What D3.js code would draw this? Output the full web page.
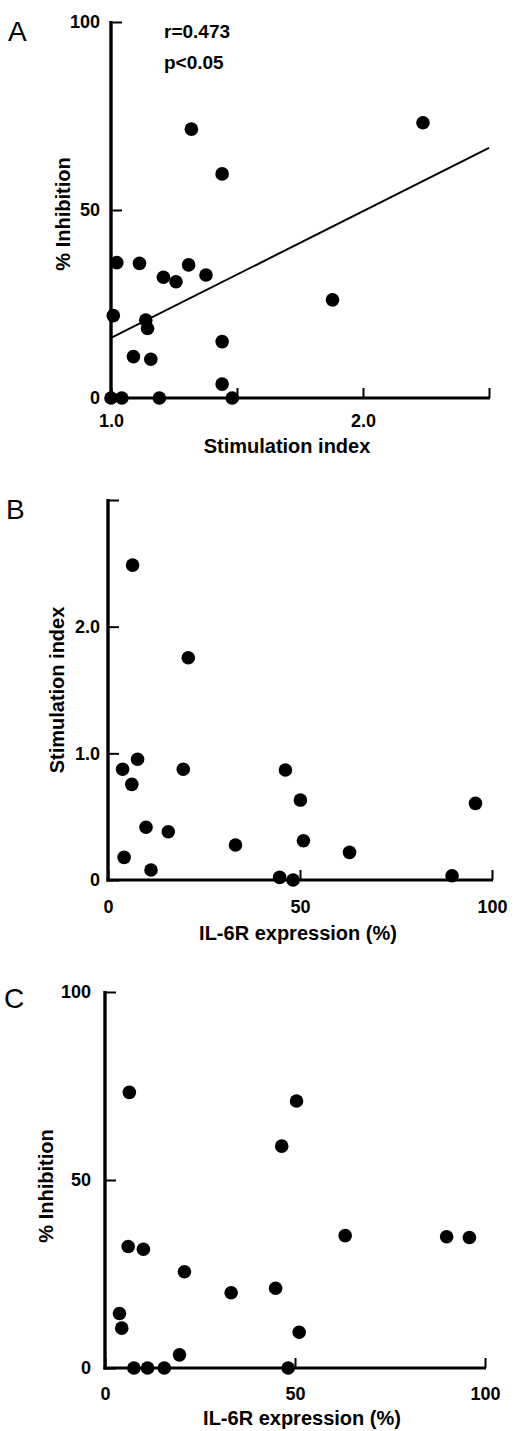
<!DOCTYPE html>
<html>
<head>
<meta charset="utf-8">
<script src="https://cdn.jsdelivr.net/npm/d3@7/dist/d3.min.js"></script>
<style>
  html, body { margin: 0; padding: 0; background: #fff; }
  svg { display: block; }
  text { font-family: "Liberation Sans", Arial, Helvetica, sans-serif; fill: #000; }
</style>
</head>
<body>
<svg id="chart" width="514" height="1431"></svg>
<script>
// ---------------- DATA ----------------
// Panel A: Stimulation index vs % Inhibition
const stimIndexA  = [1.023, 1.113, 1.308, 1.208, 1.258, 1.377, 1.879, 1.009, 1.138, 1.145, 1.089, 1.158, 1.441, 1.441, 1.000, 1.043, 1.192, 1.481, 1.319, 1.441, 2.238];
const inhibitionA = [36.0, 35.8, 35.4, 32.1, 30.9, 32.7, 26.1, 21.9, 20.7, 18.5, 11.0, 10.3, 15.0, 3.7, 0, 0, 0, 0, 71.5, 59.6, 73.2];
const regressionX = [1.0, 2.5];
const regressionY = [16.0, 66.5];
const statsLabels = ["r=0.473", "p<0.05"];

// Panel B: IL-6R expression vs Stimulation index
const il6rB      = [6.4, 20.9, 3.8, 7.7, 6.2, 19.6, 46.2, 50.1, 95.7, 9.9, 15.7, 33.2, 50.9, 62.9, 4.2, 11.2, 44.7, 48.2, 89.6];
const stimIndexB = [2.486, 1.755, 0.874, 0.953, 0.755, 0.874, 0.868, 0.631, 0.605, 0.416, 0.381, 0.276, 0.31, 0.218, 0.179, 0.079, 0.021, 0.0, 0.034];

// Panel C: IL-6R expression vs % Inhibition
const il6rC       = [6.4, 50.4, 46.5, 63.2, 89.9, 95.9, 6.1, 10.1, 20.9, 33.2, 44.9, 3.8, 4.4, 51.1, 19.6, 7.6, 11.2, 15.6, 48.2];
const inhibitionC = [73.3, 71.0, 59.0, 35.2, 34.9, 34.7, 32.3, 31.6, 25.6, 20.0, 21.2, 14.5, 10.6, 9.5, 3.5, 0, 0, 0, 0];

// Tick values and labels
const ticksAX = [1.0, 1.5, 2.0, 2.5];
const labelsAX = ["1.0", "", "2.0", ""];
const ticksAY = [0, 50, 100];
const labelsAY = ["0", "50", "100"];
const ticksBX = [0, 50, 100];
const labelsBX = ["0", "50", "100"];
const ticksBY = [0, 1, 2, 3];
const labelsBY = ["0", "1.0", "2.0", ""];
const ticksCX = [0, 50, 100];
const labelsCX = ["0", "50", "100"];
const ticksCY = [0, 50, 100];
const labelsCY = ["0", "50", "100"];

const panelLetters = ["A", "B", "C"];
const xTitles = ["Stimulation index", "IL-6R expression (%)", "IL-6R expression (%)"];
const yTitles = ["% Inhibition", "Stimulation index", "% Inhibition"];

// ---------------- LAYOUT ----------------
const svg = d3.select("#chart");

const panels = [
  { letter: panelLetters[0], letterPos: [8, 41],
    xDomain: [1, 2.5], xRange: [111, 489], yDomain: [0, 100], yRange: [398, 22],
    xTicks: ticksAX, xLabels: labelsAX, yTicks: ticksAY, yLabels: labelsAY,
    xs: stimIndexA, ys: inhibitionA,
    xTitle: xTitles[0], xTitlePos: [287, 453], yTitle: yTitles[0], yTitlePos: [63, 214],
    yLabelPad: 11, xLabelPad: 29 },
  { letter: panelLetters[1], letterPos: [6, 519],
    xDomain: [0, 100], xRange: [108, 492], yDomain: [0, 3], yRange: [880, 500],
    xTicks: ticksBX, xLabels: labelsBX, yTicks: ticksBY, yLabels: labelsBY,
    xs: il6rB, ys: stimIndexB,
    xTitle: xTitles[1], xTitlePos: [298, 940], yTitle: yTitles[1], yTitlePos: [57, 690],
    yLabelPad: 8, xLabelPad: 33 },
  { letter: panelLetters[2], letterPos: [4, 1008],
    xDomain: [0, 100], xRange: [105, 485], yDomain: [0, 100], yRange: [1368, 992],
    xTicks: ticksCX, xLabels: labelsCX, yTicks: ticksCY, yLabels: labelsCY,
    xs: il6rC, ys: inhibitionC,
    xTitle: xTitles[2], xTitlePos: [302, 1425], yTitle: yTitles[2], yTitlePos: [46, 1186],
    yLabelPad: 14, xLabelPad: 32 }
];

panels.forEach((p, i) => {
  const x = d3.scaleLinear().domain(p.xDomain).range(p.xRange);
  const y = d3.scaleLinear().domain(p.yDomain).range(p.yRange);
  const g = svg.append("g");

  // panel letter
  g.append("text")
    .attr("x", p.letterPos[0]).attr("y", p.letterPos[1])
    .attr("font-size", 28).attr("font-weight", "normal")
    .text(p.letter);

  // x axis
  const xAxis = d3.axisBottom(x)
    .tickValues(p.xTicks)
    .tickFormat((d, k) => p.xLabels[k])
    .tickSizeInner(-10).tickSizeOuter(0).tickPadding(p.xLabelPad - 15);
  const gx = g.append("g").attr("transform", `translate(0,${p.yRange[0]})`).call(xAxis);
  gx.select(".domain").attr("stroke", "#000").attr("stroke-width", 3.2)
    .attr("d", `M${p.xRange[0] - 1.5},0H${p.xRange[1] + 1}`);
  gx.selectAll(".tick line").attr("stroke", "#000").attr("stroke-width", 2);
  gx.selectAll(".tick text")
    .attr("font-family", "Liberation Sans, Arial, sans-serif")
    .attr("font-size", 18).attr("font-weight", "bold").attr("fill", "#000")
    .attr("dy", null).attr("y", p.xLabelPad).attr("dominant-baseline", "auto");

  // y axis
  const yAxis = d3.axisLeft(y)
    .tickValues(p.yTicks)
    .tickFormat((d, k) => p.yLabels[k])
    .tickSizeInner(-11).tickSizeOuter(0).tickPadding(p.yLabelPad);
  const gy = g.append("g").attr("transform", `translate(${p.xRange[0]},0)`).call(yAxis);
  gy.select(".domain").attr("stroke", "#000").attr("stroke-width", 3.4)
    .attr("d", `M0,${p.yRange[1] - 1}V${p.yRange[0] + 1.5}`);
  gy.selectAll(".tick line").attr("stroke", "#000").attr("stroke-width", 2);
  gy.selectAll(".tick text")
    .attr("font-family", "Liberation Sans, Arial, sans-serif")
    .attr("font-size", 18).attr("font-weight", "bold").attr("fill", "#000");

  // axis titles
  g.append("text")
    .attr("x", p.xTitlePos[0]).attr("y", p.xTitlePos[1])
    .attr("text-anchor", "middle").attr("font-size", 20).attr("font-weight", "bold")
    .text(p.xTitle);
  g.append("text")
    .attr("transform", `translate(${p.yTitlePos[0]},${p.yTitlePos[1]}) rotate(-90)`)
    .attr("text-anchor", "middle").attr("dominant-baseline", "central")
    .attr("font-size", 20).attr("font-weight", "bold")
    .text(p.yTitle);

  // regression line (panel A)
  if (i === 0) {
    const line = d3.line().x(d => x(d[0])).y(d => y(d[1]));
    g.append("path")
      .datum(regressionX.map((v, k) => [v, regressionY[k]]))
      .attr("d", line).attr("fill", "none").attr("stroke", "#000").attr("stroke-width", 2);
    g.selectAll("text.stat").data(statsLabels).join("text")
      .attr("class", "stat")
      .attr("x", 164).attr("y", (d, k) => 38 + k * 31)
      .attr("font-size", 19).attr("font-weight", "bold")
      .text(d => d);
  }

  // points
  g.selectAll("circle").data(p.xs.map((v, k) => [v, p.ys[k]])).join("circle")
    .attr("cx", d => x(d[0])).attr("cy", d => y(d[1]))
    .attr("r", 6.8).attr("fill", "#000");
});
</script>
</body>
</html>
